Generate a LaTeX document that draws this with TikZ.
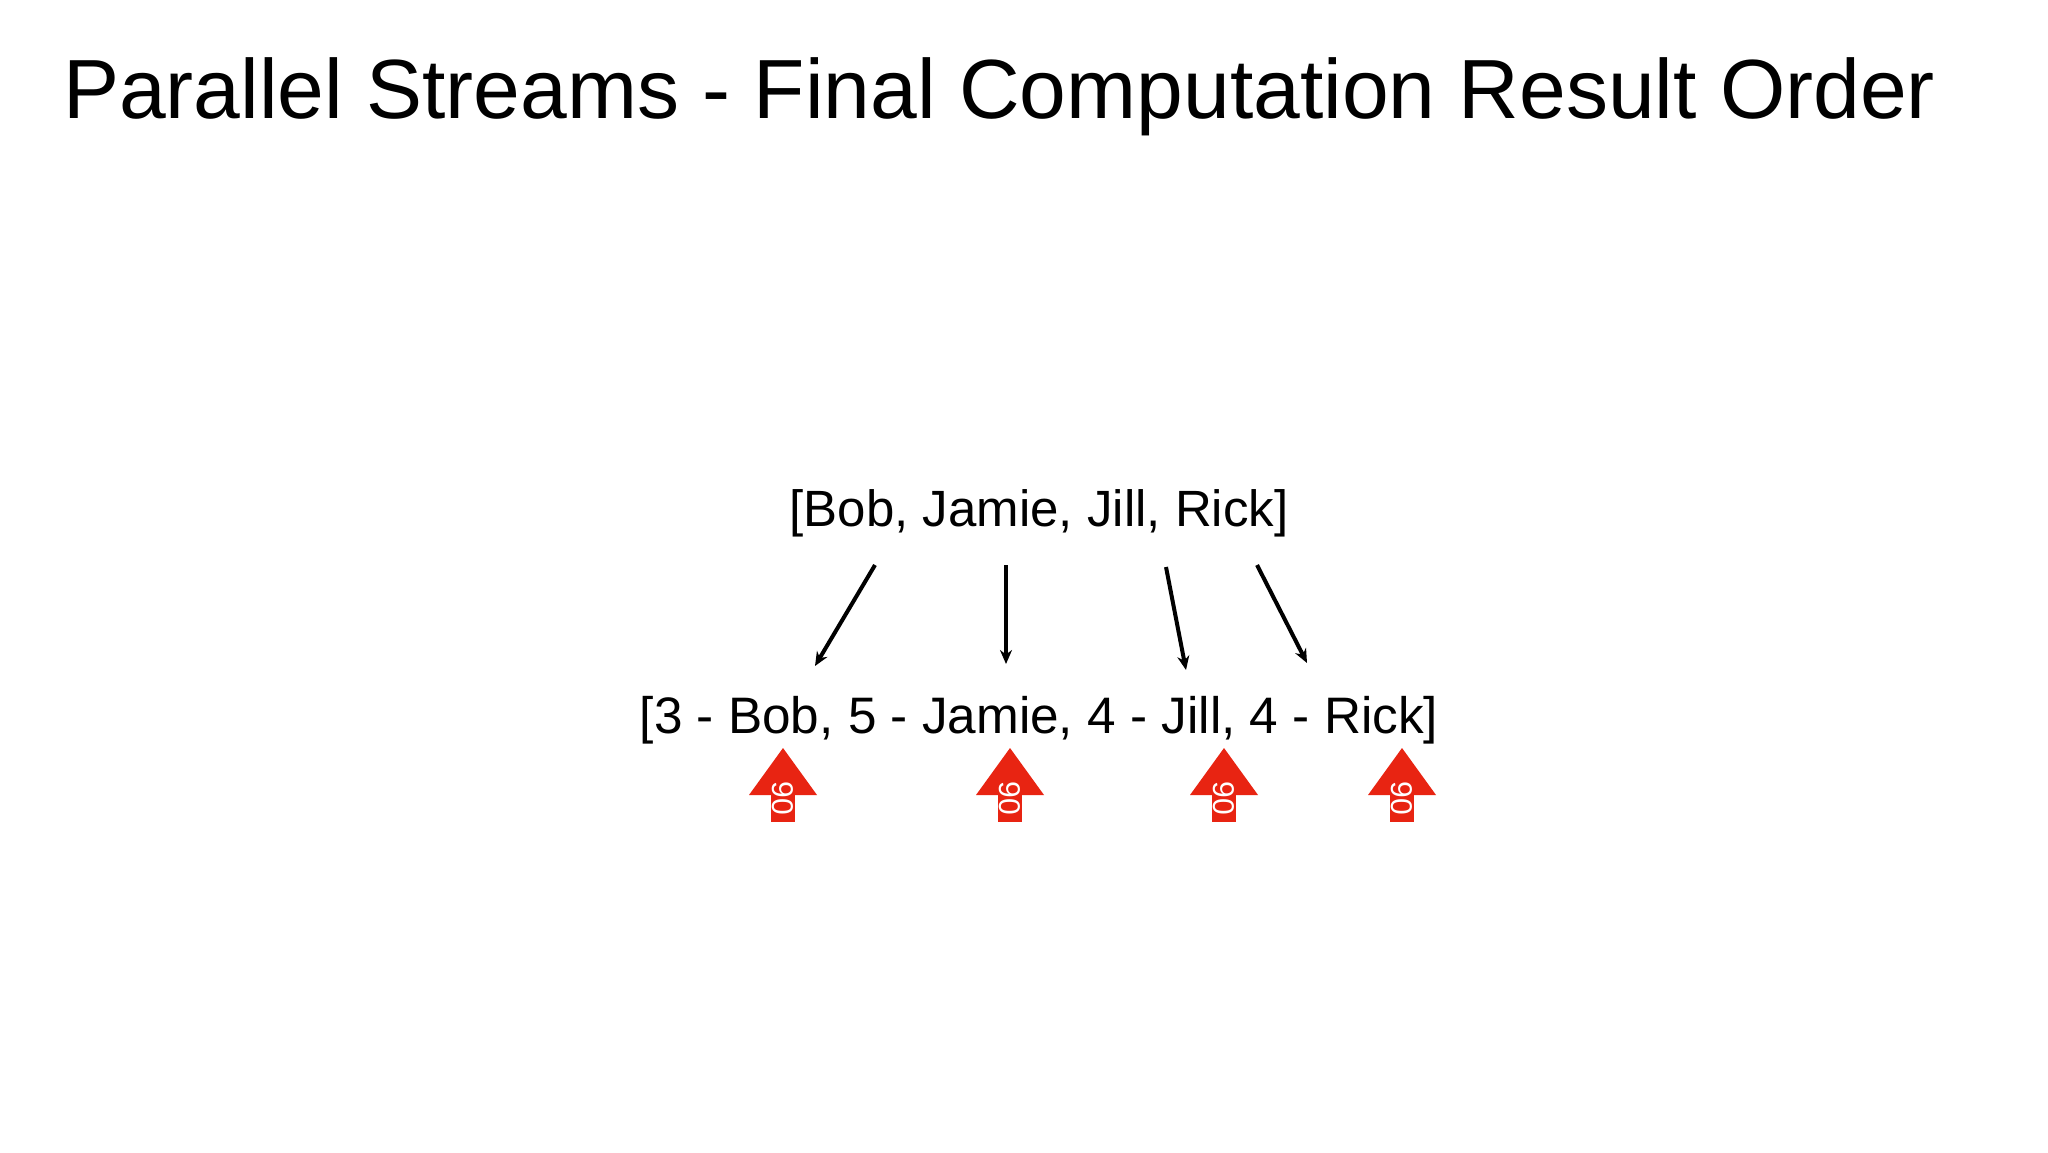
\documentclass[tikz,border=0pt]{standalone}
\usepackage{fontspec}
\setmainfont{Liberation Sans}
\usetikzlibrary{arrows.meta}
\definecolor{redup}{RGB}{232,36,18}
\begin{document}
\begin{tikzpicture}[x=1pt,y=-1pt,
  conn/.style={-{Stealth[length=14pt,width=12pt]},line width=4pt},
  upmark/.style={fill=redup,draw=none}]
\useasboundingbox (0,0) rectangle (2048,1152);
\fill[white] (0,0) rectangle (2048,1152);
\node[anchor=base west,inner sep=0,font=\fontsize{84}{90}\selectfont] (title) at (63,118) {Parallel Streams - Final Computation Result Order};
\node[anchor=base,inner sep=0,font=\fontsize{51}{58}\selectfont] (src) at (1039,526) {[Bob, Jamie, Jill, Rick]};
\node[anchor=base,inner sep=0,font=\fontsize{51.3}{58}\selectfont] (dst) at (1039,733) {[3 - Bob, 5 - Jamie, 4 - Jill, 4 - Rick]};
\coordinate (s1) at (875,565); \coordinate (e1) at (815,666);
\coordinate (s2) at (1006,565); \coordinate (e2) at (1006,664);
\coordinate (s3) at (1166,567); \coordinate (e3) at (1186,670);
\coordinate (s4) at (1257,565); \coordinate (e4) at (1307,663);
\foreach \i in {1,2,3,4} \draw[conn] (s\i) -- (e\i);
\foreach \x/\n in {783/a,1010/b,1224/c,1402/d}{
  \fill[upmark] (\x,748) -- (\x+34,795) -- (\x-34,795) -- cycle;
  \fill[upmark] (\x-12,794) rectangle (\x+12,822);
  \node[rotate=-90,text=white,inner sep=0,font=\fontsize{30}{30}\selectfont] (m\n) at (\x,798) {90};
}
\end{tikzpicture}
\end{document}
